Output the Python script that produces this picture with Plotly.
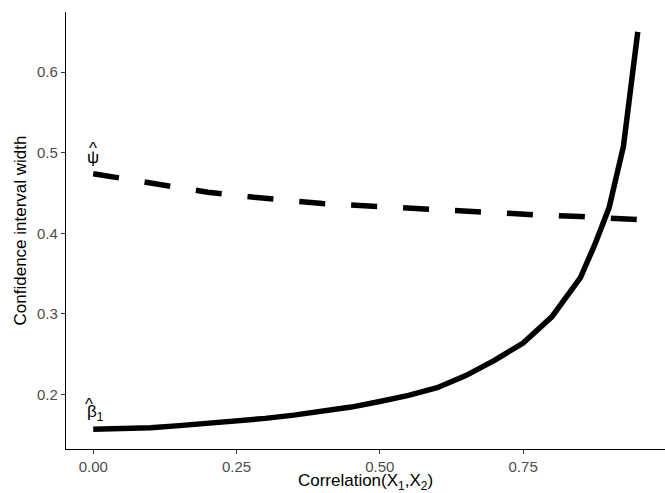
import plotly.graph_objects as go

correlation = [0.0, 0.05, 0.1, 0.15, 0.2, 0.25, 0.3, 0.35, 0.4, 0.45, 0.5, 0.55,
               0.6, 0.65, 0.7, 0.75, 0.8, 0.85, 0.875, 0.9, 0.925, 0.95]
beta1_width = [0.157, 0.1575, 0.159, 0.1615, 0.164, 0.167, 0.1705, 0.1745, 0.179, 0.1845,
               0.1915, 0.199, 0.2085, 0.2235, 0.2425, 0.264, 0.2965, 0.345, 0.386, 0.432,
               0.508, 0.650]
psi_width = [0.474, 0.468, 0.462, 0.457, 0.451, 0.447, 0.443, 0.440, 0.437, 0.435,
             0.433, 0.431, 0.429, 0.427, 0.425, 0.423, 0.422, 0.421, 0.420, 0.419,
             0.418, 0.417]
x_ticks = [0.0, 0.25, 0.5, 0.75]
x_tick_labels = ["0.00", "0.25", "0.50", "0.75"]
y_ticks = [0.2, 0.3, 0.4, 0.5, 0.6]
y_tick_labels = ["0.2", "0.3", "0.4", "0.5", "0.6"]

FONT = "Liberation Sans, Arial, sans-serif"

fig = go.Figure()
fig.add_trace(go.Scatter(x=correlation, y=beta1_width, mode="lines",
                         line=dict(color="black", width=5.5), showlegend=False))
fig.add_trace(go.Scatter(x=correlation, y=psi_width, mode="lines",
                         line=dict(color="black", width=5.5, dash="26px,26px"),
                         showlegend=False))

lab_font = dict(family=FONT, size=17, color="black")
# psi-hat label
fig.add_annotation(x=0, y=0.494, xref="x", yref="y", text="\u03c8",
                   showarrow=False, font=lab_font)
fig.add_annotation(x=0, y=0.505, xref="x", yref="y", text="^",
                   showarrow=False, font=lab_font)
# beta-hat-1 label
fig.add_annotation(x=0, y=0.177, xref="x", yref="y", text="\u03b2<sub>1</sub>",
                   showarrow=False, font=lab_font, xshift=2)
fig.add_annotation(x=0, y=0.188, xref="x", yref="y", text="^",
                   showarrow=False, font=lab_font, xshift=-4)

axis_common = dict(showgrid=False, zeroline=False, showline=True, linecolor="black",
                   linewidth=1.2, ticks="outside", ticklen=4, tickcolor="#333333",
                   tickwidth=1.1, tickfont=dict(family=FONT, size=15, color="#4D4D4D"))

fig.update_xaxes(range=[-0.0475, 0.9975], tickvals=x_ticks, ticktext=x_tick_labels,
                 title=dict(text="Correlation(X<sub>1</sub>,X<sub>2</sub>)",
                            font=dict(family=FONT, size=17, color="black"), standoff=2),
                 **axis_common)
fig.update_yaxes(range=[0.1325, 0.6746], tickvals=y_ticks, ticktext=y_tick_labels,
                 title=dict(text="Confidence interval width",
                            font=dict(family=FONT, size=17, color="black"), standoff=6),
                 **axis_common)

fig.update_layout(width=665, height=493, plot_bgcolor="white", paper_bgcolor="white",
                  margin=dict(l=66, r=0, t=12, b=44))

fig.write_html("out.html", config={"displayModeBar": False},
               post_script="document.body.style.margin='0';")
